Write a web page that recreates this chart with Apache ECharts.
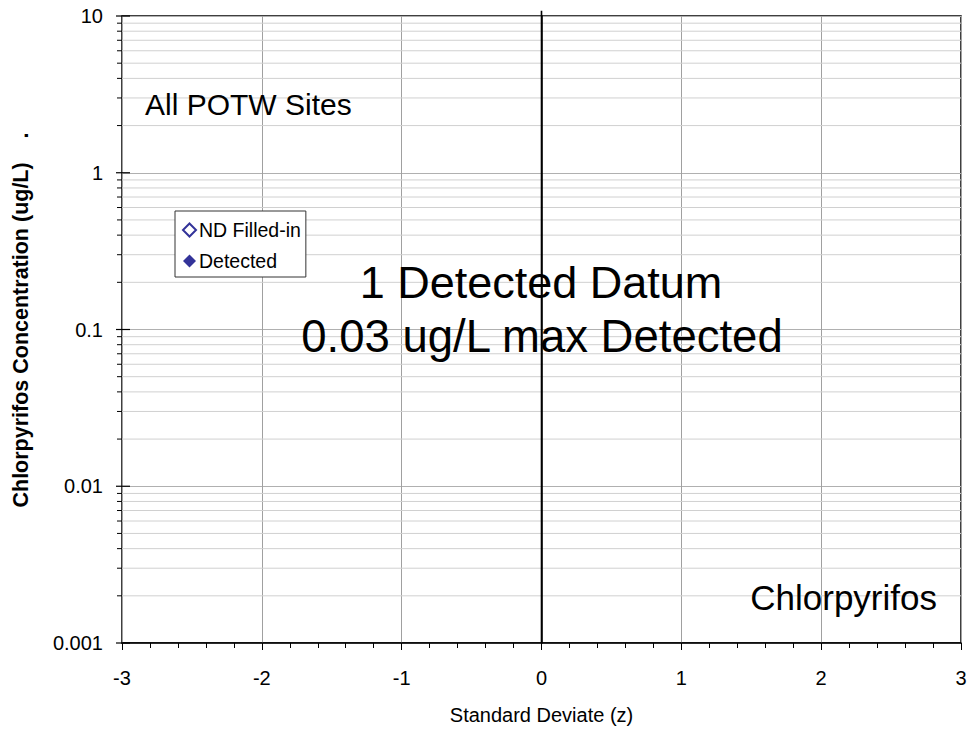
<!DOCTYPE html>
<html>
<head>
<meta charset="utf-8">
<script src="https://cdn.jsdelivr.net/npm/echarts@6/dist/echarts.min.js"></script>
<style>
html,body{margin:0;padding:0;background:#fff;}
#chart{width:971px;height:732px;}
</style>
</head>
<body>
<div id="chart"></div>
<script>
// ---- data ----
const xTicks = [-3, -2, -1, 0, 1, 2, 3];
const yTickLabels = ['0.001', '0.01', '0.1', '1', '10'];
const yMajorValues = [0.001, 0.01, 0.1, 1, 10];
const yMinorValues = [
  0.002, 0.003, 0.004, 0.005, 0.006, 0.007, 0.008, 0.009,
  0.02, 0.03, 0.04, 0.05, 0.06, 0.07, 0.08, 0.09,
  0.2, 0.3, 0.4, 0.5, 0.6, 0.7, 0.8, 0.9,
  2, 3, 4, 5, 6, 7, 8, 9
];
const ndFilledIn = [];      // no non-detect points plotted
const detected = [];        // no detected points plotted
const zeroLineX = [0, 0];
const zeroLineY = [0.001, 10.8];

const xAxisName = 'Standard Deviate (z)';
const yAxisName = 'Chlorpyrifos Concentration (ug/L)    .';
const siteText = 'All POTW Sites';
const countText = '1 Detected Datum';
const maxText = '0.03 ug/L max Detected';
const analyteText = 'Chlorpyrifos';

const FONT = "'Liberation Sans', Arial, sans-serif";

const chart = echarts.init(document.getElementById('chart'), null, {renderer: 'svg'});

function gridItem(params, api, major) {
  const v = api.value(0);
  const cs = params.coordSys;
  const p = api.coord([-3, v]);
  const y = p[1];
  const children = [];
  if (!major) {
    children.push({type: 'line', shape: {x1: cs.x, y1: y, x2: cs.x + cs.width, y2: y},
      style: {stroke: '#d0d0d0', lineWidth: 1}, z2: 0});
    children.push({type: 'line', shape: {x1: cs.x - 5, y1: y, x2: cs.x, y2: y},
      style: {stroke: '#000', lineWidth: 1}, z2: 5});
  } else {
    children.push({type: 'line', shape: {x1: cs.x - 6, y1: y, x2: cs.x + 8, y2: y},
      style: {stroke: '#000', lineWidth: 1.2}, z2: 5});
  }
  return {type: 'group', children: children};
}

const option = {
  backgroundColor: '#fff',
  animation: false,
  textStyle: {fontFamily: FONT},
  grid: {left: 122, right: 10, top: 16, bottom: 89, show: true,
         borderColor: '#000', borderWidth: 1.5, backgroundColor: 'transparent'},
  legend: {
    data: ['ND Filled-in', 'Detected'],
    orient: 'vertical',
    left: 175, top: 211,
    backgroundColor: '#fff',
    borderColor: '#333', borderWidth: 1,
    padding: [9, 5, 6, 7],
    itemWidth: 13, itemHeight: 13,
    itemGap: 11,
    textStyle: {fontFamily: FONT, fontSize: 19.5, lineHeight: 18, color: '#000', padding: [0, 0, 0, -2]}
  },
  xAxis: {
    type: 'value', min: -3, max: 3, interval: 1,
    axisLine: {show: true, lineStyle: {color: '#000', width: 1.5}},
    axisTick: {show: true, length: 7, lineStyle: {color: '#000'}},
    minorTick: {show: true, splitNumber: 5, length: 5, lineStyle: {color: '#000'}},
    splitLine: {show: true, lineStyle: {color: '#a0a0a0', width: 1}},
    axisLabel: {fontSize: 20, color: '#000', margin: 25, fontFamily: FONT,
      formatter: v => String(v)},
    name: xAxisName, nameLocation: 'middle', nameGap: 62,
    nameTextStyle: {fontSize: 20, color: '#000', fontFamily: FONT}
  },
  yAxis: {
    type: 'log', logBase: 10, min: 0.001, max: 10,
    axisLine: {show: true, lineStyle: {color: '#000', width: 1.5}},
    axisTick: {show: false},
    splitLine: {show: true, lineStyle: {color: '#b0b0b0', width: 1}},
    axisLabel: {fontSize: 20, color: '#000', margin: 19, fontFamily: FONT,
      formatter: function (v) {
        const i = yMajorValues.findIndex(m => Math.abs(Math.log10(m) - Math.log10(v)) < 1e-6);
        return i >= 0 ? yTickLabels[i] : '';
      }}
  },
  graphic: [
    {type: 'text', x: 145, y: 104, z: 100,
     style: {text: siteText, font: '30px ' + FONT, fill: '#000', align: 'left', verticalAlign: 'middle'}},
    {type: 'text', x: 541, y: 282, z: 100,
     style: {text: countText, font: '45px ' + FONT, fill: '#000', align: 'center', verticalAlign: 'middle'}},
    {type: 'text', x: 542, y: 336, z: 100,
     style: {text: maxText, font: '45.5px ' + FONT, fill: '#000', align: 'center', verticalAlign: 'middle'}},
    {type: 'text', x: 937, y: 597, z: 100,
     style: {text: analyteText, font: '35px ' + FONT, fill: '#000', align: 'right', verticalAlign: 'middle'}},
    {type: 'text', x: 21, y: 320, rotation: Math.PI / 2, z: 100,
     style: {text: yAxisName, font: 'bold 21.5px ' + FONT, fill: '#000', align: 'center', verticalAlign: 'middle'}}
  ],
  series: [
    {type: 'custom', name: 'minorGrid', z: 0, silent: true, clip: false,
     data: yMinorValues.map(v => [v]),
     dimensions: ['y'],
     encode: {y: 0},
     renderItem: (params, api) => gridItem(params, api, false)},
    {type: 'custom', name: 'majorTicks', z: 5, silent: true, clip: false,
     data: yMajorValues.map(v => [v]),
     dimensions: ['y'],
     encode: {y: 0},
     renderItem: (params, api) => gridItem(params, api, true)},
    {type: 'line', name: 'zeroLine', z: 6, clip: false, silent: true,
     data: zeroLineX.map((x, i) => [x, zeroLineY[i]]),
     symbol: 'none', lineStyle: {color: '#000', width: 1.6}},
    {type: 'scatter', name: 'ND Filled-in', symbol: 'diamond', symbolSize: 12,
     itemStyle: {color: '#fff', borderColor: '#000080', borderWidth: 1.6},
     data: ndFilledIn},
    {type: 'scatter', name: 'Detected', symbol: 'diamond', symbolSize: 12,
     itemStyle: {color: '#000080'},
     data: detected}
  ]
};
chart.setOption(option);
</script>
</body>
</html>
